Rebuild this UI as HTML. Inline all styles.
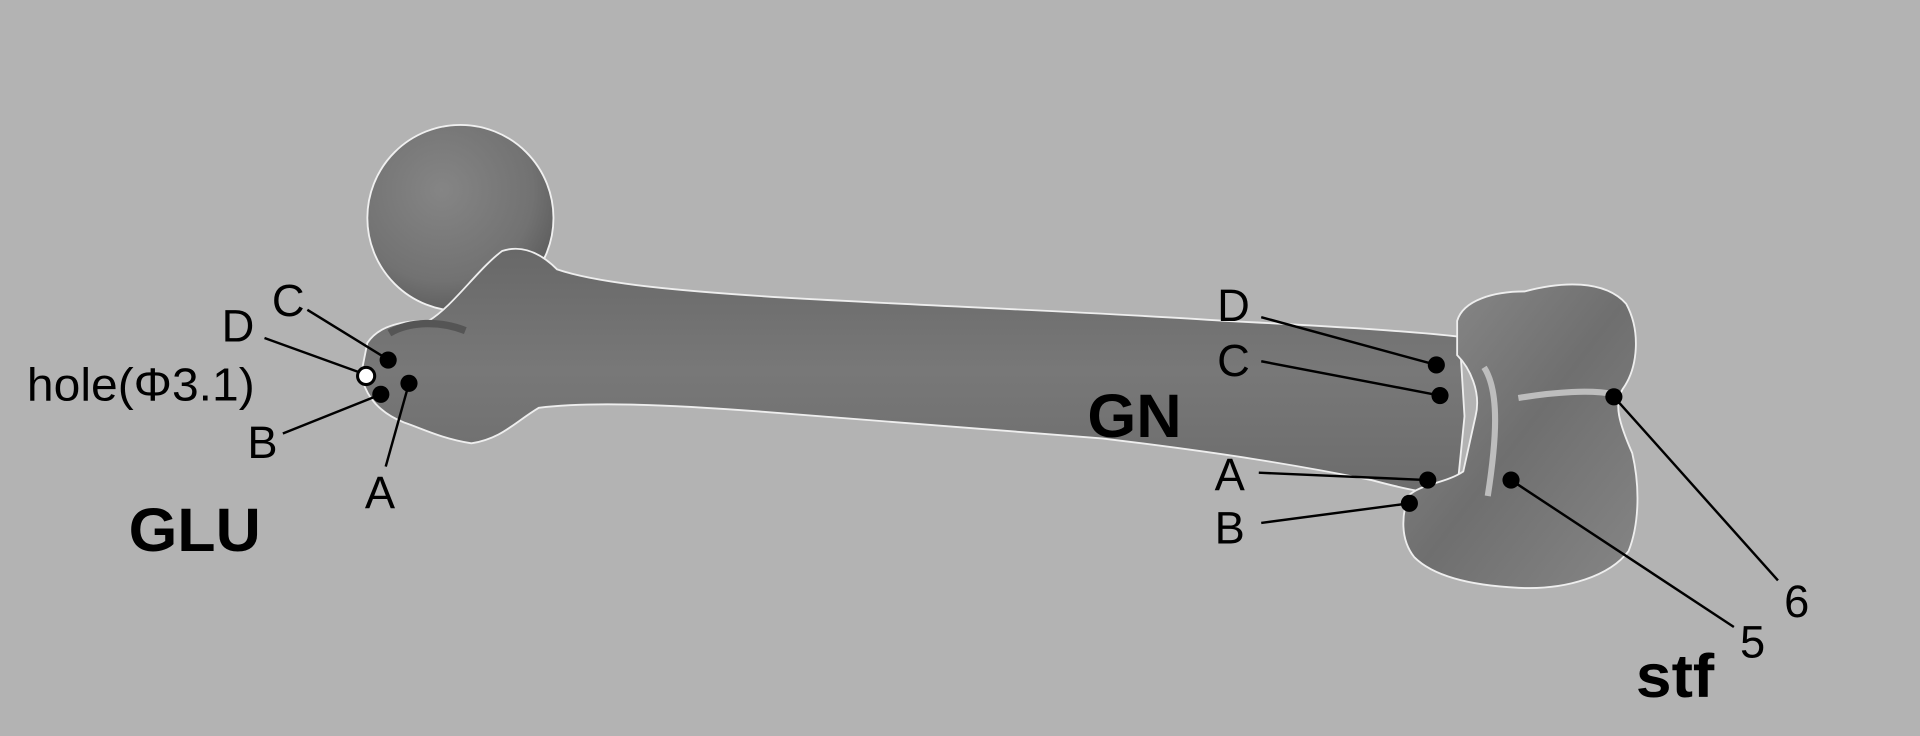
<!DOCTYPE html>
<html><head><meta charset="utf-8"><style>
html,body{margin:0;padding:0;background:#b3b3b3;width:1920px;height:736px;overflow:hidden}
svg{display:block}
text{font-family:"Liberation Sans",sans-serif;fill:#000}
</style></head><body>
<svg width="1920" height="736" viewBox="0 0 1568 601" preserveAspectRatio="none">
<defs>
<radialGradient id="hg" cx="0.4" cy="0.35" r="0.7"><stop offset="0" stop-color="#858585"/><stop offset="0.7" stop-color="#727272"/><stop offset="1" stop-color="#5a5a5a"/></radialGradient>
<linearGradient id="sg" x1="0" y1="0" x2="0" y2="1"><stop offset="0" stop-color="#686868"/><stop offset="0.5" stop-color="#787878"/><stop offset="1" stop-color="#6c6c6c"/></linearGradient>
<linearGradient id="cg" x1="0" y1="0" x2="1" y2="1"><stop offset="0" stop-color="#8c8c8c"/><stop offset="0.5" stop-color="#6f6f6f"/><stop offset="1" stop-color="#868686"/></linearGradient>
</defs>
<rect width="1568" height="601" fill="#b3b3b3"/>
<circle cx="376" cy="178" r="76" fill="url(#hg)" stroke="#f0f0f0" stroke-width="1.5"/>
<path fill="url(#sg)" stroke="#eeeeee" stroke-width="1.5"
d="M300,280 C310,265 330,262 350,262 C370,250 390,220 410,205 C425,200 440,205 455,220 C490,232 560,238 640,243 C760,250 900,255 1000,262 C1080,266 1150,270 1192,275 L1196,340 L1190,400 C1170,405 1150,400 1120,392 C1060,380 1000,370 900,358 C800,350 700,342 620,336 C540,330 480,328 440,333 C420,345 410,358 385,362 C360,358 345,350 330,345 C312,338 298,325 295,305 Z"/>
<path fill="url(#cg)" stroke="#eeeeee" stroke-width="1.5"
d="M1190,262 C1195,245 1220,238 1245,238 C1275,230 1310,228 1328,248 C1340,270 1338,300 1325,318 C1318,330 1322,345 1333,370 C1340,400 1338,430 1330,450 C1315,470 1280,482 1240,480 C1200,478 1170,470 1155,455 C1143,440 1145,420 1150,405 C1160,395 1180,395 1195,385 L1205,340 C1210,320 1200,300 1190,290 Z"/>
<path d="M1212,300 C1225,320 1222,360 1215,405 M1240,325 C1270,320 1300,318 1318,322" stroke="#bdbdbd" stroke-width="5" fill="none"/>
<path d="M318,272 C335,262 360,262 380,270" stroke="#555" stroke-width="6" fill="none"/>
<g stroke="#000" stroke-width="2">
<line x1="251" y1="253" x2="316" y2="293"/>
<line x1="216" y1="276" x2="299" y2="306"/>
<line x1="231" y1="354" x2="311" y2="322"/>
<line x1="315" y1="381" x2="334" y2="313"/>
<line x1="1030" y1="259" x2="1173" y2="298"/>
<line x1="1030" y1="295" x2="1176" y2="323"/>
<line x1="1028" y1="386" x2="1166" y2="392"/>
<line x1="1030" y1="427" x2="1151" y2="411"/>
<line x1="1234" y1="392" x2="1416" y2="512"/>
<line x1="1318" y1="324" x2="1452" y2="474"/>
</g>
<g fill="#000">
<circle cx="317" cy="294" r="7"/><circle cx="311" cy="322" r="7"/><circle cx="334" cy="313" r="7"/>
<circle cx="1173" cy="298" r="7"/><circle cx="1176" cy="323" r="7"/><circle cx="1166" cy="392" r="7"/><circle cx="1151" cy="411" r="7"/>
<circle cx="1234" cy="392" r="7"/><circle cx="1318" cy="324" r="7"/>
</g>
<circle cx="299" cy="307" r="7" fill="#fff" stroke="#000" stroke-width="2.5"/>
<g font-size="37">
<text x="222" y="258">C</text><text x="181" y="279">D</text>
<text x="22" y="327" font-size="38" textLength="186" lengthAdjust="spacingAndGlyphs">hole(Φ3.1)</text>
<text x="202" y="374">B</text><text x="298" y="415">A</text>
<text x="994" y="262">D</text><text x="994" y="307">C</text>
<text x="992" y="400">A</text><text x="992" y="444">B</text>
<text x="1421" y="537">5</text><text x="1457" y="504">6</text>
</g>
<text x="105" y="450" font-size="50" font-weight="bold" textLength="108" lengthAdjust="spacingAndGlyphs">GLU</text>
<text x="888" y="357" font-size="50" font-weight="bold" textLength="77" lengthAdjust="spacingAndGlyphs">GN</text>
<text x="1336" y="569" font-size="50" font-weight="bold" textLength="64" lengthAdjust="spacingAndGlyphs">stf</text>
</svg>
</body></html>
